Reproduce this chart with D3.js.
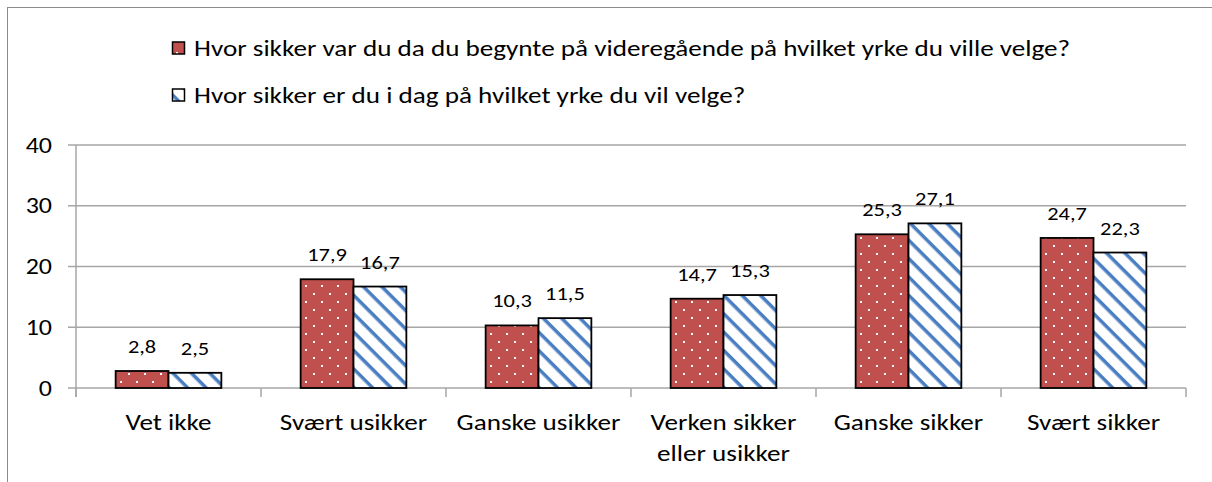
<!DOCTYPE html>
<html>
<head>
<meta charset="utf-8">
<script src="https://cdn.jsdelivr.net/npm/d3@7"></script>
<style>
  html, body { margin: 0; padding: 0; background: #fff; }
  svg { display: block; font-family: Carlito, Calibri, Lato, sans-serif; }
</style>
</head>
<body>
<div id="chart"></div>
<script>
// Data
const categories = ["Vet ikke", "Svært usikker", "Ganske usikker", "Verken sikker eller usikker", "Ganske sikker", "Svært sikker"];
const categoryLines = [["Vet ikke"], ["Svært usikker"], ["Ganske usikker"], ["Verken sikker", "eller usikker"], ["Ganske sikker"], ["Svært sikker"]];
const seriesNames = [
  "Hvor sikker var du da du begynte på videregående på hvilket yrke du ville velge?",
  "Hvor sikker er du i dag på hvilket yrke du vil velge?"
];
const seriesStart = [2.8, 17.9, 10.3, 14.7, 25.3, 24.7];
const seriesToday = [2.5, 16.7, 11.5, 15.3, 27.1, 22.3];
const yTicks = [0, 10, 20, 30, 40];

const W = 1212, H = 482;
const margin = { top: 145, right: 26, bottom: 94, left: 76 };
const width  = W - margin.left - margin.right;
const height = H - margin.top - margin.bottom;
// the reference text is a little wider than the installed font
const stretch = 1.18;

const svg = d3.select("#chart").append("svg")
  .attr("width", W).attr("height", H);

// Patterns: red with white dots, white with blue diagonal stripes
const defs = svg.append("defs");
const dots = defs.append("pattern")
  .attr("id", "dots").attr("patternUnits", "userSpaceOnUse")
  .attr("width", 16).attr("height", 16);
dots.append("rect").attr("width", 16).attr("height", 16).attr("fill", "#C0504D");
dots.append("rect").attr("x", 4).attr("y", 4).attr("width", 2).attr("height", 2).attr("fill", "#fff");
dots.append("rect").attr("x", 12).attr("y", 12).attr("width", 2).attr("height", 2).attr("fill", "#fff");

const stripes = defs.append("pattern")
  .attr("id", "stripes").attr("patternUnits", "userSpaceOnUse")
  .attr("width", 13).attr("height", 13)
  .attr("patternTransform", "rotate(45)");
stripes.append("rect").attr("width", 13).attr("height", 13).attr("fill", "#fff");
stripes.append("rect").attr("width", 13).attr("height", 3.5).attr("fill", "#4A7EC2");

const fills = ["url(#dots)", "url(#stripes)"];

// text placed at (px,py), stretched horizontally
function label(sel, px, py, size, anchor) {
  return sel.append("text")
    .attr("transform", `translate(${px},${py}) scale(${stretch},1)`)
    .attr("text-anchor", anchor)
    .attr("font-size", size)
    .attr("fill", "#000");
}

// Outer frame (only left and top edges visible)
svg.append("rect")
  .attr("x", 7.5).attr("y", 7.5)
  .attr("width", W + 10).attr("height", H + 10)
  .attr("fill", "none").attr("stroke", "#8c8c8c").attr("stroke-width", 1);

const g = svg.append("g").attr("transform", `translate(${margin.left},${margin.top})`);

const x0 = d3.scaleBand().domain(categories).range([0, width]).padding(0);
const bw = x0.bandwidth();
const barW = bw / 3.5;
const x1 = d3.scaleBand().domain([0, 1]).range([barW * 0.75, barW * 2.75]).padding(0);
const y = d3.scaleLinear().domain([0, 40]).range([height, 0]);

// Gridlines
g.selectAll("line.grid")
  .data(yTicks)
  .enter().append("line")
    .attr("class", "grid")
    .attr("x1", -8).attr("x2", width)
    .attr("y1", d => y(d)).attr("y2", d => y(d))
    .attr("stroke", "#a6a6a6").attr("stroke-width", 1.5);

// Y axis line
g.append("line")
  .attr("x1", 0).attr("x2", 0)
  .attr("y1", 0).attr("y2", height + 9)
  .attr("stroke", "#a6a6a6").attr("stroke-width", 1.5);

// Y tick labels
yTicks.forEach(t => {
  label(g, -24, y(t), 22, "end").attr("dy", "0.35em").text(t);
});

// Category ticks
g.selectAll("line.xtick")
  .data(d3.range(categories.length + 1))
  .enter().append("line")
    .attr("class", "xtick")
    .attr("x1", i => i * bw).attr("x2", i => i * bw)
    .attr("y1", height).attr("y2", height + 9)
    .attr("stroke", "#a6a6a6").attr("stroke-width", 1.5);

// Bars
const rows = categories.map((c, i) => ({ cat: c, vals: [seriesStart[i], seriesToday[i]] }));

const groups = g.selectAll("g.cat")
  .data(rows)
  .enter().append("g")
    .attr("class", "cat")
    .attr("transform", d => `translate(${x0(d.cat)},0)`);

groups.selectAll("rect")
  .data(d => d.vals.map((v, s) => ({ v, s })))
  .enter().append("rect")
    .attr("x", d => x1(d.s))
    .attr("y", d => y(d.v))
    .attr("width", x1.bandwidth())
    .attr("height", d => height - y(d.v))
    .attr("fill", d => fills[d.s])
    .attr("stroke", "#000").attr("stroke-width", 1.8);

groups.each(function(d, i) {
  const grp = d3.select(this);
  d.vals.forEach((v, s) => {
    label(grp, x1(s) + x1.bandwidth() / 2, y(v) - 18, 19, "middle")
      .text(d3.format(".1f")(v).replace(".", ","));
  });
  // Category labels
  const t = label(grp, bw / 2, height + 42, 23, "middle");
  categoryLines[i].forEach((line, k) => {
    t.append("tspan").attr("x", 0).attr("y", k * 31).text(line);
  });
});

// Legend
const legend = svg.append("g").attr("transform", "translate(172,0)");
const legendY = [48, 95];
seriesNames.forEach((name, i) => {
  legend.append("rect")
    .attr("x", 0.5).attr("y", legendY[i] - 6)
    .attr("width", 12).attr("height", 12)
    .attr("fill", fills[i])
    .attr("stroke", "#000").attr("stroke-width", 1.5);
  label(legend, 22, legendY[i], 23, "start").attr("dy", "0.35em").text(name);
});
</script>
</body>
</html>
